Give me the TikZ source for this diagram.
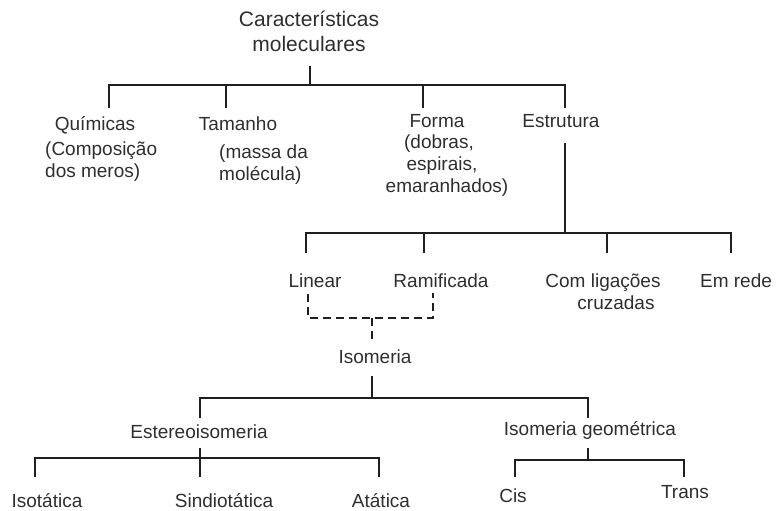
\documentclass[tikz,border=0pt]{standalone}
\usepackage{fontspec}
\setmainfont{Liberation Sans}
\begin{document}
\begin{tikzpicture}[x=1pt,y=-1pt,
  lbl/.style={font=\fontsize{19}{22}\selectfont, text=black!82, inner sep=0pt, anchor=base},
  lblw/.style={lbl, anchor=base west},
  ttl/.style={font=\fontsize{21}{25}\selectfont, text=black!82, inner sep=0pt, anchor=base},
  conn/.style={draw=black!88, line width=1.9pt},
  dconn/.style={conn, dash pattern=on 8pt off 5pt}]
\useasboundingbox (0,0) rectangle (782,511);
% ---------- texts ----------
\node[ttl] (t1) at (309,27) {Características};
\node[ttl] (t2) at (309,52) {moleculares};
\node[lbl] (qui) at (95,130) {Químicas};
\node[lblw] (qui2) at (45,155) {(Composição};
\node[lblw] (qui3) at (45,177) {dos meros)};
\node[lbl] (tam) at (238,130) {Tamanho};
\node[lblw] (tam2) at (219,158) {(massa da};
\node[lblw] (tam3) at (219,180) {molécula)};
\node[lbl] (for) at (437,128) {Forma};
\node[lbl] (for2) at (439,148) {(dobras,};
\node[lbl] (for3) at (442,170) {espirais,};
\node[lbl] (for4) at (447,192) {emaranhados)};
\node[lbl] (est) at (561,128) {Estrutura};
\node[lbl] (lin) at (315,287) {Linear};
\node[lbl] (ram) at (441,287) {Ramificada};
\node[lbl] (com) at (603,287) {Com ligações};
\node[lbl] (com2) at (616,309) {cruzadas};
\node[lbl] (rede) at (736,287) {Em rede};
\node[lbl] (iso) at (375,363) {Isomeria};
\node[lbl] (ste) at (199,438) {Estereoisomeria};
\node[lbl] (geo) at (590,435) {Isomeria geométrica};
\node[lbl] (ist) at (47,507) {Isotática};
\node[lbl] (sin) at (224,507) {Sindiotática};
\node[lbl] (ata) at (381,507) {Atática};
\node[lbl] (cis) at (513,502) {Cis};
\node[lbl] (tra) at (685,498) {Trans};
% ---------- connector end points ----------
\coordinate (r0) at (310,66);  \coordinate (r1) at (310,85);
\coordinate (b1l) at (109,85); \coordinate (b1r) at (565,85);
\coordinate (dq) at (109,108); \coordinate (dt) at (226,108);
\coordinate (df) at (423,108); \coordinate (de) at (565,108);
\coordinate (e0) at (565,143); \coordinate (e1) at (565,233);
\coordinate (b2l) at (306,233); \coordinate (b2r) at (731,233);
\coordinate (dl) at (306,253); \coordinate (dr) at (424,253);
\coordinate (dc) at (607,253); \coordinate (dn) at (731,253);
\coordinate (ld) at (308,294); \coordinate (rd) at (433,293);
\coordinate (bl) at (308,318); \coordinate (br) at (433,318);
\coordinate (bm) at (372,318); \coordinate (im) at (372,343);
\coordinate (i0) at (372,376); \coordinate (i1) at (372,398);
\coordinate (b3l) at (200,398); \coordinate (b3r) at (588,398);
\coordinate (ds) at (200,418); \coordinate (dg) at (588,418);
\coordinate (s0) at (200,448); \coordinate (s1) at (200,477);
\coordinate (b4l) at (35,458); \coordinate (b4r) at (379,458);
\coordinate (d4l) at (35,477); \coordinate (d4r) at (379,477);
\coordinate (g0) at (588,448); \coordinate (g1) at (588,460);
\coordinate (b5l) at (515,460); \coordinate (b5r) at (684,460);
\coordinate (d5l) at (515,477); \coordinate (d5r) at (684,477);
% ---------- connectors ----------
\draw[conn] (r0) -- (r1);
\draw[conn] (dq) -- (b1l) -- (b1r) -- (de);
\draw[conn] (dt) -- (dt |- b1l);
\draw[conn] (df) -- (df |- b1l);
\draw[conn] (e0) -- (e1);
\draw[conn] (dl) -- (b2l) -- (b2r) -- (dn);
\draw[conn] (dr) -- (dr |- b2l);
\draw[conn] (dc) -- (dc |- b2l);
\draw[dconn] (ld) -- (bl) -- (br) -- (rd);
\draw[dconn] (bm) -- (im);
\draw[conn] (i0) -- (i1);
\draw[conn] (ds) -- (b3l) -- (b3r) -- (dg);
\draw[conn] (s0) -- (s1);
\draw[conn] (d4l) -- (b4l) -- (b4r) -- (d4r);
\draw[conn] (g0) -- (g1);
\draw[conn] (d5l) -- (b5l) -- (b5r) -- (d5r);
\end{tikzpicture}
\end{document}
